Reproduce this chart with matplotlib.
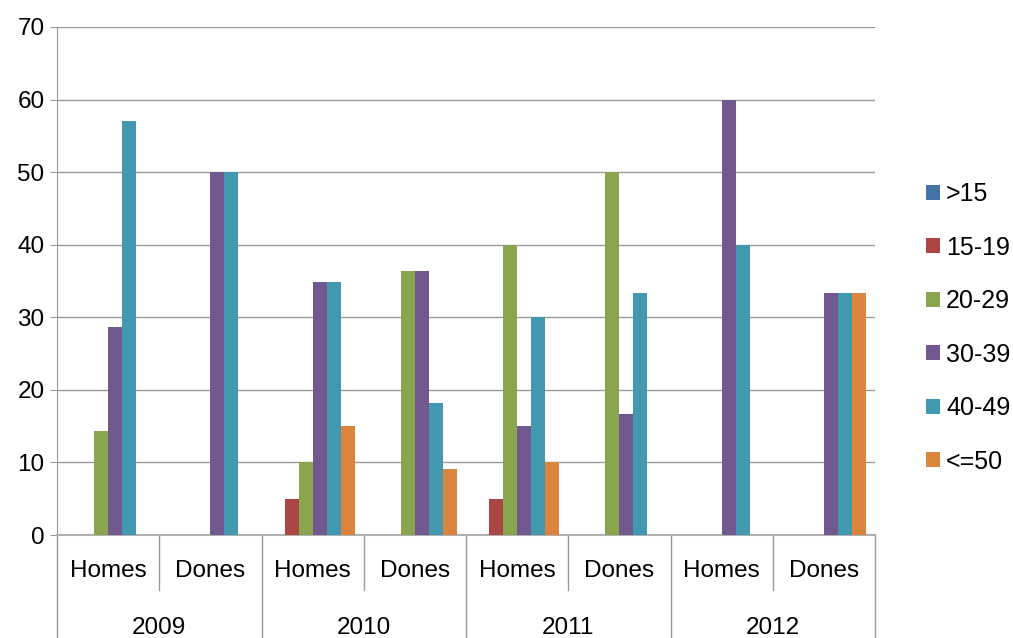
import numpy as np
import matplotlib.pyplot as plt
import matplotlib.transforms as mtransforms

plt.rcParams['font.family'] = ['Liberation Sans', 'DejaVu Sans']

years = ['2009', '2010', '2011', '2012']
kinds = ['Homes', 'Dones']
series = ['>15', '15-19', '20-29', '30-39', '40-49', '<=50']
colors = ['#4572A7', '#AA4643', '#89A54E', '#71588F', '#4198AF', '#DB843D']

# one value per category: 2009 Homes, 2009 Dones, 2010 Homes, ...
v_lt15 = [0, 0, 0, 0, 0, 0, 0, 0]
v_15_19 = [0, 0, 5, 0, 5, 0, 0, 0]
v_20_29 = [14.3, 0, 10, 36.4, 40, 50, 0, 0]
v_30_39 = [28.6, 50, 34.8, 36.4, 15, 16.7, 60, 33.3]
v_40_49 = [57.1, 50, 34.8, 18.2, 30, 33.3, 40, 33.3]
v_le50 = [0, 0, 15, 9.1, 10, 0, 0, 33.3]
values = [v_lt15, v_15_19, v_20_29, v_30_39, v_40_49, v_le50]

fig = plt.figure(figsize=(10.13, 6.38), dpi=100)
ax = fig.add_axes([0.0563, 0.1614, 0.8075, 0.7963])

n = len(years) * len(kinds)
x = np.arange(n)
w = 0.137
for i, (name, vals, c) in enumerate(zip(series, values, colors)):
    ax.bar(x + (i - 2.5) * w, vals, w, color=c, label=name, zorder=3)

ax.set_xlim(-0.5, n - 0.5)
ax.set_ylim(0, 70)
ax.set_yticks(range(0, 71, 10))
ax.yaxis.grid(True, color='#9a9a9a', linewidth=1, zorder=0)
ax.tick_params(axis='y', labelsize=17.5, length=5, color='#9a9a9a', pad=4)
ax.tick_params(axis='x', length=0, labelbottom=False)
for s in ['top', 'right']:
    ax.spines[s].set_visible(False)
ax.spines['left'].set_color('#9a9a9a')
ax.spines['bottom'].set_color('#b0b0b0')
ax.spines['bottom'].set_linewidth(1.5)

# two-level category axis
trans = mtransforms.blended_transform_factory(ax.transData, ax.transAxes)
for j in range(n):
    ax.text(j, -0.07, kinds[j % 2], transform=trans, ha='center', va='center', fontsize=17.5)
for k, yr in enumerate(years):
    ax.text(2 * k + 0.5, -0.183, yr, transform=trans, ha='center', va='center', fontsize=17.5)
    ax.plot([2 * k + 0.5, 2 * k + 0.5], [0, -0.108], transform=trans, color='#9a9a9a',
            linewidth=1, clip_on=False)
for b in range(len(years) + 1):
    ax.plot([2 * b - 0.5, 2 * b - 0.5], [0, -0.21], transform=trans, color='#9a9a9a',
            linewidth=1, clip_on=False)

ax.legend(loc='center left', bbox_to_anchor=(0.904, 0.486), bbox_transform=fig.transFigure,
          frameon=False, fontsize=18, handlelength=0.56, handleheight=0.56,
          handletextpad=0.25, labelspacing=1.18, borderaxespad=0)

fig.savefig('out.png', dpi=100)
